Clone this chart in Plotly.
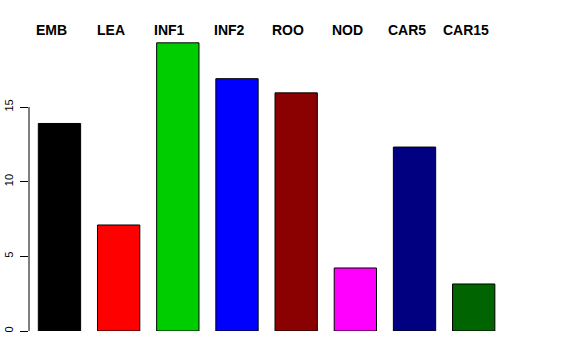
import plotly.graph_objects as go

categories = ["EMB", "LEA", "INF1", "INF2", "ROO", "NOD", "CAR5", "CAR15"]
values = [13.9, 7.1, 19.3, 16.9, 15.95, 4.22, 12.32, 3.15]
colors = ["#000000", "#FF0000", "#00CD00", "#0000FF", "#8B0000", "#FF00FF", "#000080", "#006400"]
y_ticks = [0, 5, 10, 15]

x = list(range(len(categories)))

fig = go.Figure()
fig.add_trace(go.Bar(
    x=x, y=values, width=0.715,
    marker=dict(color=colors, line=dict(color="#000000", width=1)),
    hoverinfo="skip",
))

for i, c in enumerate(categories):
    fig.add_annotation(x=i, y=20.16, text="<b>%s</b>" % c, showarrow=False,
                       xref="x", yref="y", xshift=-8,
                       font=dict(family="Liberation Sans, Arial, sans-serif", size=14, color="#000000"))

# R-style axis line spanning only the tick range
fig.add_shape(type="line", xref="paper", yref="y", x0=0, x1=0, y0=0, y1=15,
              line=dict(color="#000000", width=1))

fig.update_layout(
    width=576, height=360,
    margin=dict(l=29, r=31, t=20, b=29, autoexpand=False),
    paper_bgcolor="white", plot_bgcolor="white",
    showlegend=False,
    xaxis=dict(range=[-0.515, 8.205], showticklabels=False, showgrid=False,
               zeroline=False, showline=False, ticks="", automargin=False),
    yaxis=dict(range=[0, 20.83], tickvals=y_ticks, ticktext=[str(t) for t in y_ticks],
               tickangle=-90, ticks="outside", ticklen=8, tickcolor="#000000",
               showgrid=False, zeroline=False, showline=False, automargin=False,
               tickfont=dict(family="Liberation Sans, Arial, sans-serif", size=11, color="#000000"),
               ticklabelstandoff=3),
)

# remove the browser's default 8px body margin so the figure fills the window
fig.write_html("out.html", config={"displayModeBar": False},
               post_script="document.body.style.margin='0';")
